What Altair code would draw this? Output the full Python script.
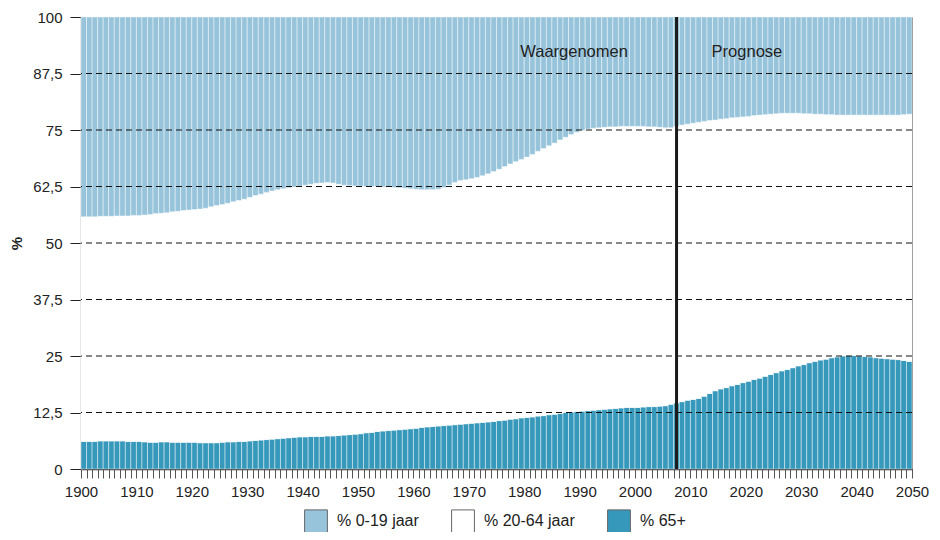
import altair as alt
import pandas as pd

years = list(range(1900, 2050))

pct_0_19 = [
    44.2, 44.2, 44.2, 44.1, 44.1, 44.1, 44.0, 44.0, 44.0, 43.9,
    43.9, 43.8, 43.7, 43.5, 43.4, 43.3, 43.1, 43.0, 42.8, 42.7,
    42.6, 42.5, 42.3, 42.0, 41.7, 41.5, 41.2, 40.9, 40.6, 40.3,
    39.9, 39.5, 39.2, 38.8, 38.5, 38.2, 38.0, 37.8, 37.6, 37.4,
    37.2, 37.0, 36.8, 36.7, 36.6, 36.7, 37.0, 37.2, 37.3, 37.4,
    37.4, 37.5, 37.5, 37.5, 37.6, 37.6, 37.7, 37.8, 37.9, 38.0,
    38.1, 38.2, 38.2, 38.2, 38.1, 37.7, 37.2, 36.6, 36.2, 36.0,
    35.8, 35.5, 35.1, 34.7, 34.2, 33.7, 33.1, 32.5, 32.0, 31.5,
    31.0, 30.4, 29.7, 29.1, 28.5, 27.9, 27.2, 26.6, 26.0, 25.5,
    25.1, 24.8, 24.6, 24.5, 24.4, 24.3, 24.3, 24.2, 24.2, 24.2,
    24.2, 24.2, 24.3, 24.3, 24.4, 24.5, 24.5, 24.2, 23.9, 23.7,
    23.5, 23.3, 23.1, 22.9, 22.8, 22.6, 22.5, 22.3, 22.2, 22.1,
    22.0, 21.8, 21.7, 21.6, 21.5, 21.4, 21.3, 21.3, 21.3, 21.3,
    21.4, 21.4, 21.5, 21.5, 21.6, 21.6, 21.7, 21.7, 21.7, 21.7,
    21.7, 21.7, 21.7, 21.7, 21.7, 21.7, 21.7, 21.7, 21.6, 21.5,
]

pct_65_plus = [
    6.1, 6.1, 6.1, 6.2, 6.2, 6.2, 6.2, 6.2, 6.1, 6.1,
    6.1, 6.0, 5.9, 5.9, 6.0, 6.0, 5.9, 5.9, 5.9, 5.9,
    5.9, 5.8, 5.8, 5.8, 5.8, 5.9, 6.0, 6.0, 6.1, 6.1,
    6.2, 6.3, 6.4, 6.5, 6.6, 6.7, 6.8, 6.9, 7.0, 7.1,
    7.1, 7.2, 7.2, 7.2, 7.3, 7.3, 7.4, 7.5, 7.6, 7.7,
    7.8, 8.0, 8.1, 8.3, 8.4, 8.5, 8.6, 8.7, 8.8, 8.9,
    9.0, 9.2, 9.3, 9.4, 9.5, 9.6, 9.7, 9.8, 9.9, 10.0,
    10.1, 10.2, 10.3, 10.4, 10.5, 10.7, 10.8, 11.0, 11.1, 11.3,
    11.4, 11.5, 11.7, 11.8, 12.0, 12.1, 12.3, 12.5, 12.6, 12.7,
    12.8, 12.9, 13.0, 13.1, 13.2, 13.3, 13.4, 13.5, 13.6, 13.6,
    13.6, 13.7, 13.8, 13.8, 13.9, 14.0, 14.3, 14.6, 14.9, 15.2,
    15.4, 15.6, 16.1, 16.7, 17.3, 17.7, 18.0, 18.4, 18.7, 19.1,
    19.4, 19.8, 20.1, 20.5, 20.9, 21.3, 21.7, 22.0, 22.4, 22.8,
    23.1, 23.5, 23.8, 24.1, 24.3, 24.6, 24.8, 25.0, 25.1, 25.1,
    25.0, 24.9, 24.8, 24.6, 24.5, 24.4, 24.3, 24.2, 24.0, 23.8,
]

groups = ["% 0-19 jaar", "% 20-64 jaar", "% 65+"]
group_colors = ["#97c4db", "#ffffff", "#3698ba"]
stack_order = {"% 65+": 0, "% 20-64 jaar": 1, "% 0-19 jaar": 2}

y_ticks = [0, 12.5, 25, 37.5, 50, 62.5, 75, 87.5, 100]
grid_values = [12.5, 25, 37.5, 50, 62.5, 75, 87.5]
x_ticks = list(range(1900, 2051))
split_year = [2007.5]
annotations = pd.DataFrame({
    "x": [1989.0, 2020.2],
    "y": [92.2, 92.2],
    "label": ["Waargenomen", "Prognose"],
})

rows = []
for yr, a, o in zip(years, pct_0_19, pct_65_plus):
    mid = round(100 - a - o, 1)
    rows.append({"year": yr, "groep": "% 65+", "pct": o, "ord": stack_order["% 65+"]})
    rows.append({"year": yr, "groep": "% 20-64 jaar", "pct": mid, "ord": stack_order["% 20-64 jaar"]})
    rows.append({"year": yr, "groep": "% 0-19 jaar", "pct": a, "ord": stack_order["% 0-19 jaar"]})
df = pd.DataFrame(rows)

FONT = "Liberation Sans"

xscale = alt.Scale(domain=[1900, 2050], nice=False, zero=False)
yscale = alt.Scale(domain=[0, 100], nice=False)

x_axis = alt.Axis(values=x_ticks, format="d",
                  labelExpr="datum.value % 10 == 0 ? datum.label : ''",
                  labelOverlap=False, labelFlush=False, grid=False,
                  tickSize=9, tickColor="#555", domainColor="#333",
                  labelPadding=6, title=None)
y_axis = alt.Axis(values=y_ticks, grid=False, tickSize=11, tickColor="#222",
                  domainColor="#888",
                  labelExpr="replace(toString(datum.value), '.', ',')",
                  labelOverlap=False, labelFlush=False,
                  labelPadding=8, title="%", titleAngle=-90,
                  titleFontWeight="bold", titlePadding=8)

bars = alt.Chart(df).transform_stack(
    stack="pct", groupby=["year"], as_=["y0", "y1"],
    sort=[alt.SortField("ord", order="ascending")],
).transform_calculate(
    year_end="datum.year + 1"
).mark_rect(stroke="white", strokeWidth=0.8, strokeOpacity=0.55).encode(
    x=alt.X("year:Q", scale=xscale, axis=x_axis),
    x2="year_end:Q",
    y=alt.Y("y0:Q", scale=yscale, axis=y_axis),
    y2="y1:Q",
    color=alt.Color("groep:N", scale=alt.Scale(domain=groups, range=group_colors),
                    title=None,
                    legend=alt.Legend(orient="none", direction="horizontal", columns=3,
                                      legendX=223, legendY=492, symbolType="square",
                                      symbolSize=520, symbolStrokeColor="#666",
                                      symbolStrokeWidth=1, symbolOpacity=1,
                                      labelFontSize=16, labelOffset=9,
                                      columnPadding=30, padding=0, labelColor="#222",
                                      labelFont=FONT)),
)

grid = alt.Chart(pd.DataFrame({"v": grid_values})).mark_rule(
    color="#111", strokeWidth=1, strokeDash=[6, 4]
).encode(y=alt.Y("v:Q", scale=yscale, axis=y_axis))

vline = alt.Chart(pd.DataFrame({"x": split_year})).mark_rule(
    color="#1a1a1a", strokeWidth=3
).encode(x=alt.X("x:Q", scale=xscale, axis=x_axis))

texts = alt.Chart(annotations).mark_text(
    fontSize=16.5, font=FONT, color="#222", align="center", baseline="middle"
).encode(
    x=alt.X("x:Q", scale=xscale, axis=x_axis),
    y=alt.Y("y:Q", scale=yscale, axis=y_axis),
    text="label:N",
)

chart = alt.layer(bars, grid, vline, texts).properties(
    width=831, height=452,
    autosize=alt.AutoSizeParams(type="none"),
    padding={"left": 73, "top": 9, "right": 20, "bottom": 63},
).configure_view(
    stroke="#888", strokeWidth=1
).configure_axis(
    labelFont=FONT, titleFont=FONT, labelFontSize=15, titleFontSize=15,
    labelColor="#222", titleColor="#222", domainWidth=1.5
)

chart.save("out.html", embed_options={"renderer": "svg", "actions": False})
